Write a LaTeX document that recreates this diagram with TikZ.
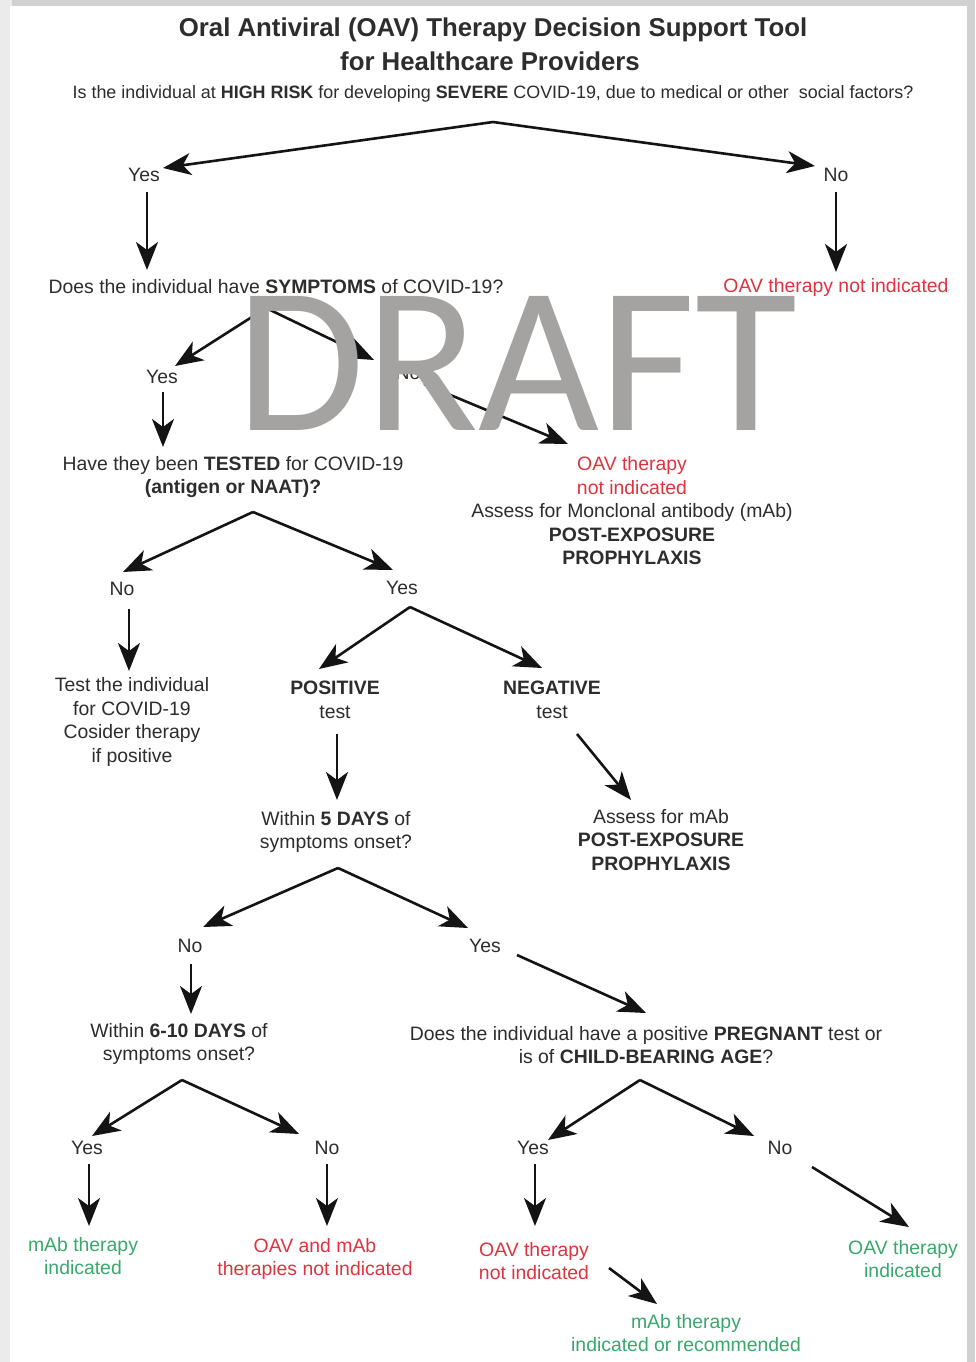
\documentclass[tikz,border=0pt]{standalone}
\usepackage{fontspec}
\setmainfont{Liberation Sans}
\newfontfamily\wmfont{Carlito}
\usetikzlibrary{arrows.meta}
\definecolor{txt}{RGB}{45,45,45}
\definecolor{redc}{RGB}{222,52,64}
\definecolor{grnc}{RGB}{58,168,108}
\definecolor{wmc}{RGB}{165,162,162}
\tikzset{
  body/.style={font=\fontsize{19.4}{23.5}\selectfont, text=txt, inner sep=0pt, align=center},
  redt/.style={body, text=redc},
  grnt/.style={body, text=grnc},
  ttl/.style={font=\fontsize{25.8}{30}\selectfont\bfseries, text=txt, inner sep=0pt},
  qst/.style={font=\fontsize{17.9}{21}\selectfont, text=txt, inner sep=0pt},
  arr/.style={draw=black!92, line width=2.6pt, -{Stealth[length=28pt,width=22pt,inset=8pt]}},
}
\begin{document}
\begin{tikzpicture}[x=1pt,y=-1pt]
\useasboundingbox (0,0) rectangle (975,1362);
\fill[black!18] (0,0) rectangle (975,1362);
\fill[black!8] (0,0) rectangle (12,1362);
\fill[white] (10,6) rectangle (967,1362);

% titles
\node[ttl] (t1) at (493,30) {Oral Antiviral (OAV) Therapy Decision Support Tool};
\node[ttl] (t2) at (490,61) {for Healthcare Providers};
\node[qst] (q1) at (493,94) {Is the individual at \textbf{HIGH RISK} for developing \textbf{SEVERE} COVID-19, due to medical or other\ \ social factors?};

% level 1
\node[body] (yes1) at (144,175) {Yes};
\node[body] (no1) at (836,175) {No};
\node[body] (sym) at (276,287) {Does the individual have \textbf{SYMPTOMS} of COVID-19?};
\node[redt] (oav1) at (836,287) {OAV therapy not indicated};

% level 2
\node[body] (yes2) at (162,377) {Yes};
\node[body] (no2) at (408,373) {No};
\node[body] (tested) at (233,477) {Have they been \textbf{TESTED} for COVID-19\\\textbf{(antigen or NAAT)?}};
\node[body] (pep1) at (632,511) {\textcolor{redc}{OAV therapy}\\\textcolor{redc}{not indicated}\\Assess for Monclonal antibody (mAb)\\\textbf{POST-EXPOSURE}\\\textbf{PROPHYLAXIS}};

% level 3
\node[body] (no3) at (122,589) {No};
\node[body] (yes3) at (402,588) {Yes};
\node[body] (testind) at (132,722) {Test the individual\\for COVID-19\\Cosider therapy\\if positive};
\node[body] (pos) at (335,700) {\textbf{POSITIVE}\\test};
\node[body] (neg) at (552,700) {\textbf{NEGATIVE}\\test};
\node[body] (five) at (336,832) {Within \textbf{5 DAYS} of\\symptoms onset?};
\node[body] (pep2) at (661,840) {Assess for mAb\\\textbf{POST-EXPOSURE}\\\textbf{PROPHYLAXIS}};

% level 4
\node[body] (no4) at (190,946) {No};
\node[body] (yes4) at (485,946) {Yes};
\node[body] (six) at (179,1044) {Within \textbf{6-10 DAYS} of\\symptoms onset?};
\node[body] (preg) at (646,1045) {Does the individual have a positive \textbf{PREGNANT} test or\\is of \textbf{CHILD-BEARING AGE}?};

% level 5
\node[body] (yes5) at (87,1148) {Yes};
\node[body] (no5) at (327,1148) {No};
\node[body] (yes6) at (533,1148) {Yes};
\node[body] (no6) at (780,1148) {No};
\node[grnt] (mabind) at (83,1256) {mAb therapy\\indicated};
\node[redt] (bothnot) at (315,1259) {OAV and mAb\\therapies not indicated};
\node[redt] (oavnot) at (534,1261) {OAV therapy\\not indicated};
\node[grnt] (oavind) at (903,1259) {OAV therapy\\indicated};
\node[grnt] (mabrec) at (686,1333) {mAb therapy\\indicated or recommended};

% connector points
\coordinate (c1) at (493,122);
\coordinate (c1l) at (163,168);
\coordinate (c1r) at (815,166);
\coordinate (y1s) at (147,192);  \coordinate (y1e) at (147,270);
\coordinate (n1s) at (836,192);  \coordinate (n1e) at (836,272);
\coordinate (c2) at (266,308);
\coordinate (c2l) at (175,366);
\coordinate (c2r) at (374,360);
\coordinate (n2s) at (424,384);  \coordinate (n2e) at (568,444);
\coordinate (y2s) at (163,392);  \coordinate (y2e) at (163,447);
\coordinate (c3) at (253,512);
\coordinate (c3l) at (123,572);
\coordinate (c3r) at (393,570);
\coordinate (n3s) at (129,609);  \coordinate (n3e) at (129,671);
\coordinate (c4) at (410,607);
\coordinate (c4l) at (319,669);
\coordinate (c4r) at (542,668);
\coordinate (ps) at (337,734);   \coordinate (pe) at (337,800);
\coordinate (ns) at (577,734);   \coordinate (ne) at (631,800);
\coordinate (c5) at (338,868);
\coordinate (c5l) at (203,927);
\coordinate (c5r) at (468,928);
\coordinate (n4s) at (191,964);  \coordinate (n4e) at (191,1014);
\coordinate (y4s) at (517,955);  \coordinate (y4e) at (646,1013);
\coordinate (c6) at (182,1080);
\coordinate (c6l) at (92,1136);
\coordinate (c6r) at (299,1134);
\coordinate (c7) at (640,1080);
\coordinate (c7l) at (548,1140);
\coordinate (c7r) at (754,1136);
\coordinate (y5s) at (89,1164);  \coordinate (y5e) at (89,1226);
\coordinate (n5s) at (327,1164); \coordinate (n5e) at (327,1226);
\coordinate (y6s) at (535,1164); \coordinate (y6e) at (535,1226);
\coordinate (n6s) at (812,1167); \coordinate (n6e) at (909,1227);
\coordinate (o6s) at (609,1268); \coordinate (o6e) at (657,1304);

% connectors
\draw[arr] (c1) -- (c1l);
\draw[arr] (c1) -- (c1r);
\draw[arr] (y1s) -- (y1e);
\draw[arr] (n1s) -- (n1e);
\draw[arr] (c2) -- (c2l);
\draw[arr] (c2) -- (c2r);
\draw[arr] (n2s) -- (n2e);
\draw[arr] (y2s) -- (y2e);
\draw[arr] (c3) -- (c3l);
\draw[arr] (c3) -- (c3r);
\draw[arr] (n3s) -- (n3e);
\draw[arr] (c4) -- (c4l);
\draw[arr] (c4) -- (c4r);
\draw[arr] (ps) -- (pe);
\draw[arr] (ns) -- (ne);
\draw[arr] (c5) -- (c5l);
\draw[arr] (c5) -- (c5r);
\draw[arr] (n4s) -- (n4e);
\draw[arr] (y4s) -- (y4e);
\draw[arr] (c6) -- (c6l);
\draw[arr] (c6) -- (c6r);
\draw[arr] (c7) -- (c7l);
\draw[arr] (c7) -- (c7r);
\draw[arr] (y5s) -- (y5e);
\draw[arr] (n5s) -- (n5e);
\draw[arr] (y6s) -- (y6e);
\draw[arr] (n6s) -- (n6e);
\draw[arr] (o6s) -- (o6e);

% watermark
\node[font=\wmfont\fontsize{209}{209}\selectfont, text=wmc, anchor=base, inner sep=0pt] (draft) at (517,430) {DRAFT};
\end{tikzpicture}
\end{document}
